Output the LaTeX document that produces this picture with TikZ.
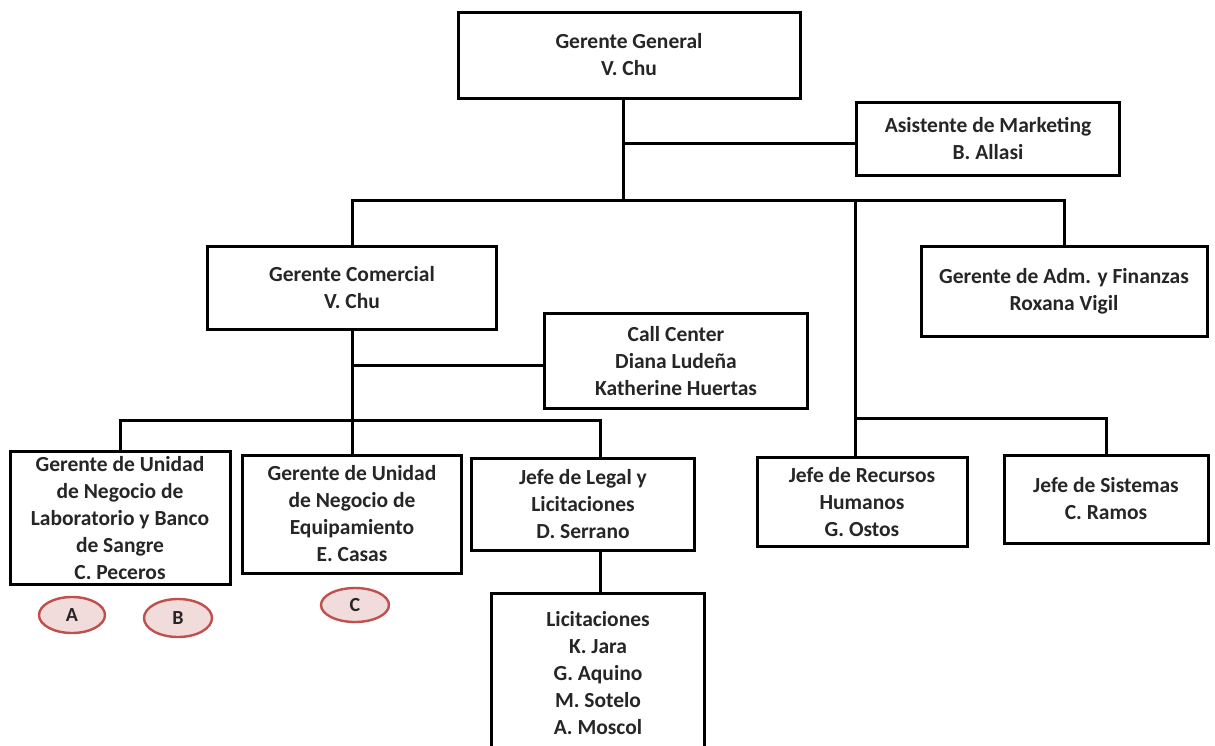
\documentclass[tikz,border=0pt]{standalone}
\usepackage{fontspec}
\setmainfont{Carlito}
\usetikzlibrary{positioning,shapes.geometric}

\tikzset{
  caja/.style={draw=black, line width=3pt, align=center, inner sep=0pt,
    font=\bfseries\fontsize{21.5}{27}\selectfont, text=black!85},
  rama/.style={line width=3pt},
  marca/.style={ellipse, draw={rgb,255:red,192;green,80;blue,77}, line width=2.4pt,
    fill={rgb,255:red,242;green,220;blue,219}, inner sep=0pt,
    font=\bfseries\fontsize{20}{22}\selectfont, text=black!85}
}

\begin{document}
\begin{tikzpicture}[x=1pt,y=-1pt]
  \useasboundingbox[fill=white] (0,0) rectangle (1215,745);
  % nivel 1
  \node[caja, minimum width=342, minimum height=86] (gg) at (629,55) {Gerente General\\V. Chu};
  \node[caja, minimum width=263, minimum height=73] (asis) at (988,139) {Asistente de Marketing\\B. Allasi};
  % nivel 2
  \node[caja, minimum width=289, minimum height=83] (gc) at (352,288) {Gerente Comercial\\V. Chu};
  \node[caja, minimum width=286, minimum height=90] (adm) at (1064,291) {Gerente de Adm. y Finanzas\\Roxana Vigil};
  \node[caja, minimum width=263, minimum height=95] (cc) at (676,361) {Call Center\\Diana Ludeña\\Katherine Huertas};
  % nivel 3
  \node[caja, minimum width=220, minimum height=133] (lab) at (120,518) {Gerente de Unidad\\de Negocio de\\Laboratorio y Banco\\de Sangre\\C. Peceros};
  \node[caja, minimum width=219, minimum height=118] (equip) at (352,514) {Gerente de Unidad\\de Negocio de\\Equipamiento\\E. Casas};
  \node[caja, minimum width=223, minimum height=92] (legal) at (583,504) {Jefe de Legal y\\Licitaciones\\D. Serrano};
  \node[caja, minimum width=210, minimum height=89] (rrhh) at (862,502) {Jefe de Recursos\\Humanos\\G. Ostos};
  \node[caja, minimum width=204, minimum height=88] (sis) at (1106,499) {Jefe de Sistemas\\C. Ramos};
  % nivel 4
  \node[caja, minimum width=213, minimum height=160] (lic) at (598,673) {Licitaciones\\K. Jara\\G. Aquino\\M. Sotelo\\A. Moscol};
  % marcas
  \node[marca, minimum width=66, minimum height=36] (ma) at (72,615) {A};
  \node[marca, minimum width=68, minimum height=38] (mb) at (178,618) {B};
  \node[marca, minimum width=68, minimum height=34] (mc) at (355,605) {C};

  % conectores
  \coordinate (t1) at (623,143);
  \coordinate (t2) at (623,200);
  \coordinate (b3) at (855,200);
  \coordinate (b4) at (855,418);
  \coordinate (c1) at (352,365);
  \coordinate (c3) at (600,420);
  \draw[rama] (gg.south -| t1) -- (t2);
  \draw[rama] (t1) -- (asis.west |- t1);
  \draw[rama] (gc.north) -- (gc.north |- t2) -- (adm.north |- t2) -- (adm.north);
  \draw[rama] (b3) -- (b3 |- rrhh.north);
  \draw[rama] (b4) -| (sis.north);
  \draw[rama] (gc.south) -- (equip.north);
  \draw[rama] (c1) -- (cc.west |- c1);
  \draw[rama] (lab.north) |- (c3) -- (c3 |- legal.north);
  \draw[rama] (c3 |- legal.south) -- (c3 |- lic.north);
\end{tikzpicture}
\end{document}
